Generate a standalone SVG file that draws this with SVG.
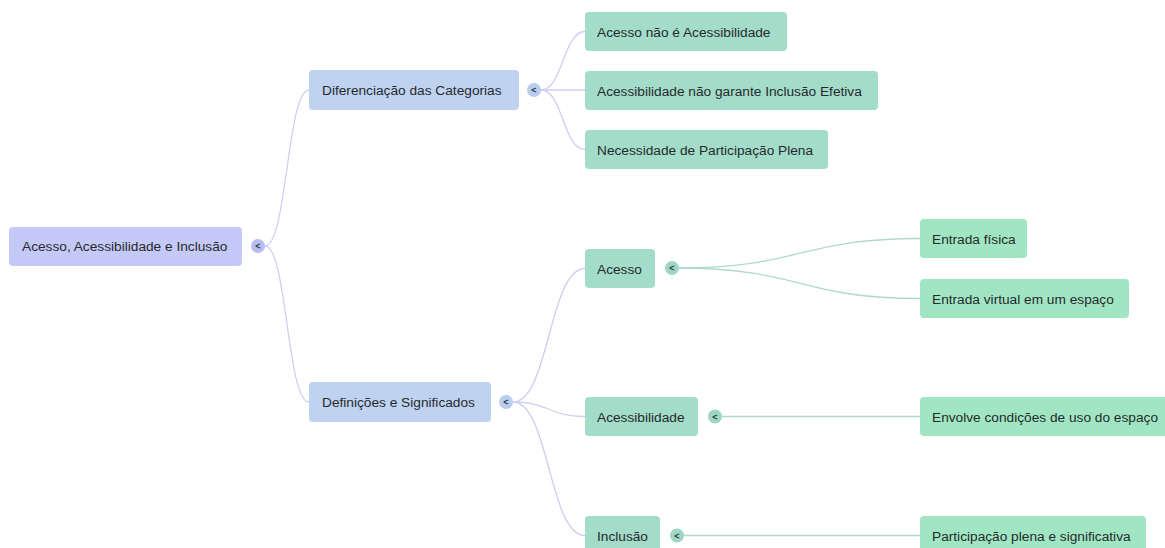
<svg xmlns="http://www.w3.org/2000/svg" width="1165" height="548" viewBox="0 0 1165 548">
<style>
  text { font-family: "Liberation Sans", Arial, sans-serif; font-size: 13.7px; fill: #262a2e; }
  .r0 { fill: #c5c9f7; }
  .r1 { fill: #bfd3f1; }
  .r2 { fill: #a3dcc9; }
  .r3 { fill: #a1e6c2; }
  .t0 { fill: #b7bdf1; }
  .t1 { fill: #b9cdef; }
  .t2 { fill: #9fd6c4; }
  .tg { font-size: 9px; font-weight: bold; fill: #2c3440; text-anchor: middle; }
  .cl { fill: none; stroke: #cdd0f1; stroke-width: 1.3; }
  .cg { fill: none; stroke: #b0d9cb; stroke-width: 1.3; }
</style>
<rect width="1165" height="548" fill="#ffffff"/>
<g id="connectors">
  <path class="cl" d="M265 246 C287 246 287 90 309 90"/>
  <path class="cl" d="M265 246 C287 246 287 402 309 402"/>
  <path class="cl" d="M541 90 C563 90 563 31.5 585 31.5"/>
  <path class="cl" d="M541 90 L585 90"/>
  <path class="cl" d="M541 90 C563 90 563 149.5 585 149.5"/>
  <path class="cl" d="M513 402 C549 402 549 268.5 585 268.5"/>
  <path class="cl" d="M513 402 C549 402 549 416.5 585 416.5"/>
  <path class="cl" d="M513 402 C549 402 549 535.5 585 535.5"/>
  <path class="cg" d="M679 268 C800 268 800 238.5 920 238.5"/>
  <path class="cg" d="M679 268 C800 268 800 298.5 920 298.5"/>
  <path class="cg" d="M722 416.5 L920 416.5"/>
  <path class="cg" d="M684 535.5 L920 535.5"/>
</g>
<g id="node-root">
  <rect class="r0" x="9" y="227" width="233" height="39" rx="4"/>
  <text x="22" y="251">Acesso, Acessibilidade e Inclusão</text>
  <circle class="t0" cx="258" cy="246" r="7"/>
  <text class="tg" x="258" y="249">&lt;</text>
</g>
<g id="node-diferenciacao">
  <rect class="r1" x="309" y="70" width="210" height="40" rx="4"/>
  <text x="322" y="95">Diferenciação das Categorias</text>
  <circle class="t1" cx="534" cy="90" r="7"/>
  <text class="tg" x="534" y="93">&lt;</text>
</g>
<g id="node-definicoes">
  <rect class="r1" x="309" y="382" width="182" height="40" rx="4"/>
  <text x="322" y="407">Definições e Significados</text>
  <circle class="t1" cx="506" cy="402" r="7"/>
  <text class="tg" x="506" y="405">&lt;</text>
</g>
<g id="node-acesso-nao">
  <rect class="r2" x="585" y="12" width="202" height="39" rx="4"/>
  <text x="597" y="36.5">Acesso não é Acessibilidade</text>
</g>
<g id="node-acessibilidade-nao">
  <rect class="r2" x="585" y="71" width="293" height="39" rx="4"/>
  <text x="597" y="95.5">Acessibilidade não garante Inclusão Efetiva</text>
</g>
<g id="node-necessidade">
  <rect class="r2" x="585" y="130" width="243" height="39" rx="4"/>
  <text x="597" y="154.5">Necessidade de Participação Plena</text>
</g>
<g id="node-acesso">
  <rect class="r2" x="585" y="249" width="70" height="39" rx="4"/>
  <text x="597" y="273.5">Acesso</text>
  <circle class="t2" cx="672" cy="268" r="7"/>
  <text class="tg" x="672" y="271">&lt;</text>
</g>
<g id="node-acessibilidade">
  <rect class="r2" x="585" y="397" width="113" height="39" rx="4"/>
  <text x="597" y="421.5">Acessibilidade</text>
  <circle class="t2" cx="715" cy="416.5" r="7"/>
  <text class="tg" x="715" y="419.5">&lt;</text>
</g>
<g id="node-inclusao">
  <rect class="r2" x="585" y="516" width="75" height="39" rx="4"/>
  <text x="597" y="540.5">Inclusão</text>
  <circle class="t2" cx="677" cy="535.5" r="7"/>
  <text class="tg" x="677" y="538.5">&lt;</text>
</g>
<g id="node-entrada-fisica">
  <rect class="r3" x="920" y="219" width="107" height="39" rx="4"/>
  <text x="932" y="243.5">Entrada física</text>
</g>
<g id="node-entrada-virtual">
  <rect class="r3" x="920" y="279" width="209" height="39" rx="4"/>
  <text x="932" y="303.5">Entrada virtual em um espaço</text>
</g>
<g id="node-envolve">
  <rect class="r3" x="920" y="397" width="260" height="39" rx="4"/>
  <text x="932" y="421.5">Envolve condições de uso do espaço</text>
</g>
<g id="node-participacao">
  <rect class="r3" x="920" y="516" width="226" height="39" rx="4"/>
  <text x="932" y="540.5">Participação plena e significativa</text>
</g>
</svg>
